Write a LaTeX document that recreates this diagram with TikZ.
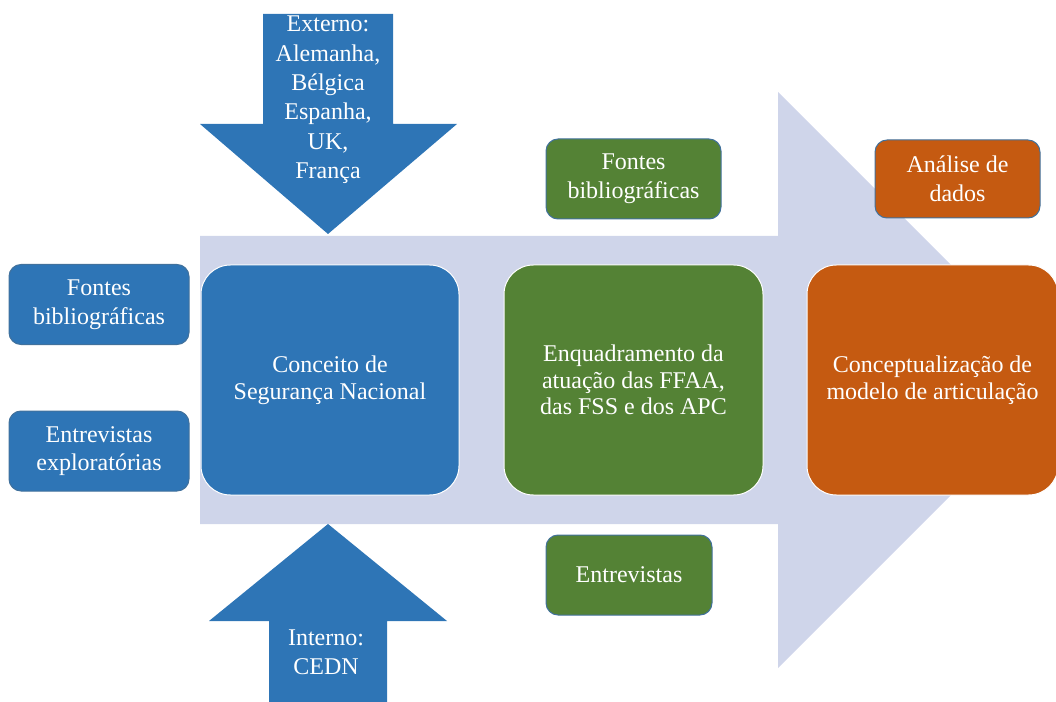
\documentclass[tikz,border=0pt]{standalone}
\usepackage{fontspec}
\setmainfont{Liberation Serif}
\definecolor{cblue}{RGB}{46,117,182}
\definecolor{cgreen}{RGB}{84,130,53}
\definecolor{corange}{RGB}{197,90,17}
\definecolor{clav}{RGB}{207,213,234}
\definecolor{cedge}{RGB}{65,113,156}
\tikzset{every picture/.style={line width=0.75pt}}
\tikzset{
  bigbox/.style={draw=white, rounded corners=22pt, text=white, align=center, inner sep=0pt, minimum height=172.5pt, font=\fontsize{18}{20}\selectfont},
  smallbox/.style={draw=cedge, rounded corners=9pt, text=white, align=center, inner sep=0pt, minimum height=60pt, font=\fontsize{18}{21.5}\selectfont},
  arrowtext/.style={text=white, align=center, inner sep=0pt, font=\fontsize{18}{22}\selectfont}
}
\begin{document}
\begin{tikzpicture}[x=0.75pt,y=0.75pt,yscale=-1,xscale=1]
\useasboundingbox (0,0) rectangle (1056,702);
\clip (0,0) rectangle (1056,702);

%Shape: Right Arrow [id:bigarrow]
\fill[clav] (200,236) -- (778,236) -- (778,92) -- (1066,380) -- (778,668) -- (778,524) -- (200,524) -- cycle ;

%Shape: Down Arrow [id:extarrow]
\fill[cblue] (263,14) -- (393,14) -- (393,124) -- (457,124) -- (328,234) -- (200,124) -- (263,124) -- cycle ;
%Shape: Up Arrow [id:intarrow]
\fill[cblue] (269,702) -- (269,621) -- (209,621) -- (328,524) -- (447,621) -- (387,621) -- (387,702) -- cycle ;

% Text Node
\node[arrowtext] (ext) at (328,100) {Externo:\\Alemanha,\\Bélgica\\Espanha,\\UK,\\França};
% Text Node
\node[arrowtext] (int) at (326,652) {Interno:\\CEDN};

% Text Node
\node[smallbox, fill=cblue, minimum width=135pt] (fontesL) at (99,304.5) {Fontes\\bibliográficas};
% Text Node
\node[smallbox, fill=cblue, minimum width=135pt] (entrevL) at (99,451) {Entrevistas\\exploratórias};
% Text Node
\node[bigbox, fill=cblue, minimum width=193.5pt] (conceito) at (330,380) {Conceito de\\Segurança Nacional};

% Text Node
\node[smallbox, fill=cgreen, minimum width=131.25pt] (fontesG) at (633.5,179) {Fontes\\bibliográficas};
% Text Node
\node[bigbox, fill=cgreen, minimum width=194.25pt] (enquadr) at (633.5,380) {Enquadramento da\\atuação das FFAA,\\das FSS e dos APC};
% Text Node
\node[smallbox, fill=cgreen, minimum width=124.5pt] (entrevG) at (629,575) {Entrevistas};

% Text Node
\node[smallbox, fill=corange, minimum width=123.75pt, minimum height=58.5pt] (analise) at (957.5,179) {Análise de\\dados};
% Text Node
\node[bigbox, fill=corange, minimum width=188.25pt] (concept) at (932.5,380) {Conceptualização de\\modelo de articulação};

\end{tikzpicture}
\end{document}
